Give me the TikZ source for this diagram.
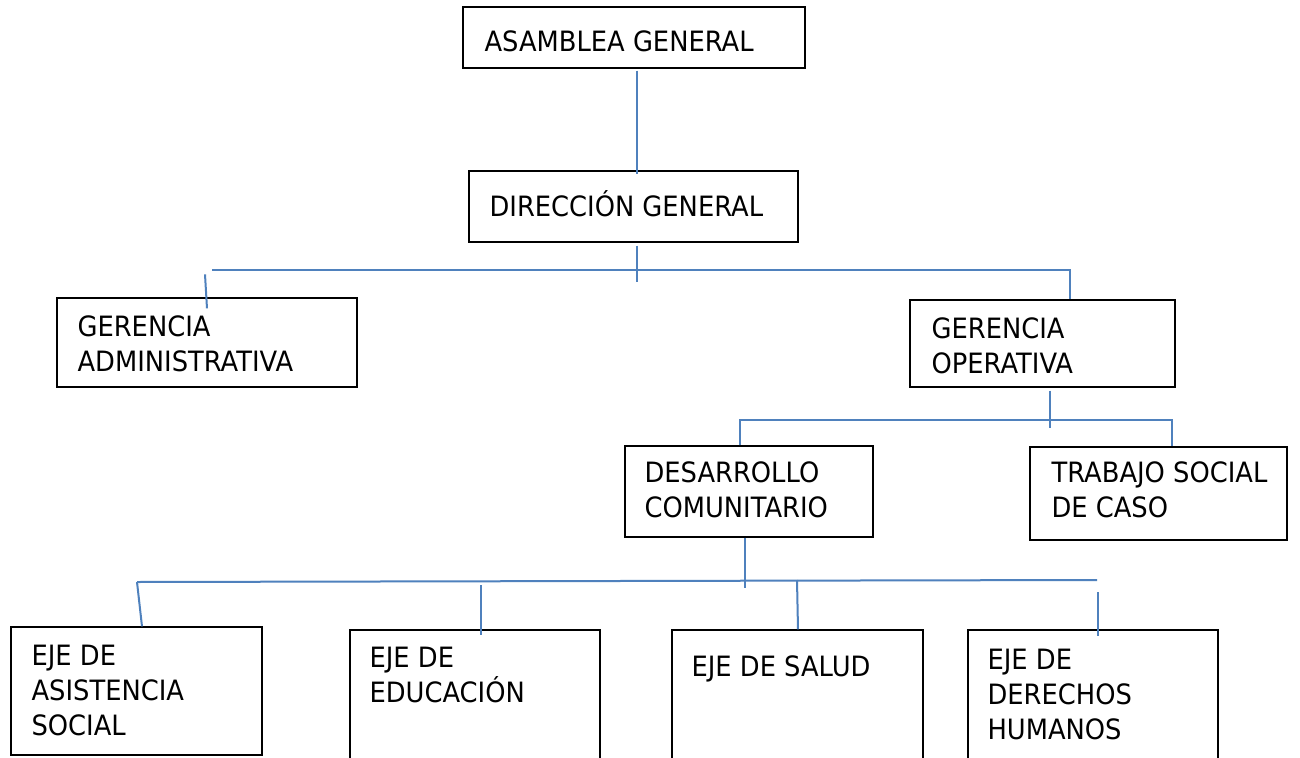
\documentclass[tikz,border=0pt]{standalone}
\usepackage{fontspec}
\setmainfont{DejaVu Sans}[FakeStretch=0.92]
\definecolor{linkblue}{HTML}{4F81BD}

\begin{document}
\begin{tikzpicture}[x=1pt,y=-1pt,
    org box/.style={draw=black,line width=1.2pt,rectangle,inner sep=0pt},
    org text/.style={anchor=north west,align=left,inner sep=0pt,
      font=\fontsize{28}{35}\selectfont,
      execute at begin node={\rule{0pt}{27.5pt}}},
    link/.style={draw=linkblue,line width=2pt}]

\useasboundingbox (0,0) rectangle (1300,757);
\clip (0,0) rectangle (1300,757);
\fill[white] (0,0) rectangle (1300,757);

% boxes
\node[org box,minimum width=342,minimum height=61] (asamblea) at (634,37.5) {};
\node[org box,minimum width=329,minimum height=71] (direccion) at (633.5,206.5) {};
\node[org box,minimum width=300,minimum height=89] (geradm) at (207,342.5) {};
\node[org box,minimum width=265,minimum height=87] (gerop) at (1042.5,343.5) {};
\node[org box,minimum width=248,minimum height=91] (desarrollo) at (749,491.5) {};
\node[org box,minimum width=257,minimum height=93] (trabajo) at (1158.5,493.5) {};
\node[org box,minimum width=251,minimum height=128] (asistencia) at (136.5,691) {};
\node[org box,minimum width=250,minimum height=160] (educacion) at (475,710) {};
\node[org box,minimum width=251,minimum height=160] (salud) at (797.5,710) {};
\node[org box,minimum width=250,minimum height=160] (derechos) at (1093,710) {};

% texts
\node[org text] (asamblea-t) at ([shift={(22,17)}]asamblea.north west) {ASAMBLEA GENERAL};
\node[org text] (direccion-t) at ([shift={(21,18)}]direccion.north west) {DIRECCIÓN GENERAL};
\node[org text] (geradm-t) at ([shift={(21,18)}]geradm.north west) {GERENCIA\\ADMINISTRATIVA};
\node[org text] (gerop-t) at ([shift={(22,18)}]gerop.north west) {GERENCIA\\OPERATIVA};
\node[org text] (desarrollo-t) at ([shift={(20,16)}]desarrollo.north west) {DESARROLLO\\COMUNITARIO};
\node[org text] (trabajo-t) at ([shift={(22,15)}]trabajo.north west) {TRABAJO SOCIAL\\DE CASO};
\node[org text] (asistencia-t) at ([shift={(21,18)}]asistencia.north west) {EJE DE\\ASISTENCIA\\SOCIAL};
\node[org text] (educacion-t) at ([shift={(20,17.5)}]educacion.north west) {EJE DE\\EDUCACIÓN};
\node[org text] (salud-t) at ([shift={(20,19)}]salud.north west) {EJE DE SALUD};
\node[org text] (derechos-t) at ([shift={(20,19.5)}]derechos.north west) {EJE DE\\DERECHOS\\HUMANOS};

% bus coordinates
\coordinate (bus1w) at (212,270);
\coordinate (bus1e) at (1070,270);
\coordinate (bus2w) at (740,420);
\coordinate (bus2e) at (1172,420);
\coordinate (bus3w) at (137,582);
\coordinate (bus3e) at (1097,580);

% connectors
\draw[link] ([xshift=3pt,yshift=-2pt]asamblea.south) -- ([xshift=3.5pt,yshift=-4pt]direccion.north);
\draw[link] ([xshift=3.5pt,yshift=-3pt]direccion.south) -- +(0,36);
\draw[link] (bus1w) -- (bus1e) -- (bus1e |- gerop.north);
\draw[link] ([xshift=-2pt,yshift=23pt]geradm.north) -- ([yshift=-11pt]geradm.north);
\draw[link] ([xshift=7.5pt,yshift=-3pt]gerop.south) -- +(0,37);
\draw[link] (bus2w |- desarrollo.north) -- (bus2w) -- (bus2e) -- (bus2e |- trabajo.north);
\draw[link] ([xshift=-4pt]desarrollo.south) -- +(0,50);
\draw[link] (bus3w) -- (bus3e);
\draw[link] (bus3w) -- ([xshift=5.5pt]asistencia.north);
\draw[link] (481,585) -- ([xshift=6pt,yshift=-6pt]educacion.north);
\draw[link] (797,580) -- ([xshift=0.5pt]salud.north);
\draw[link] (1098,592) -- ([xshift=5pt,yshift=-7pt]derechos.north);

\end{tikzpicture}
\end{document}
